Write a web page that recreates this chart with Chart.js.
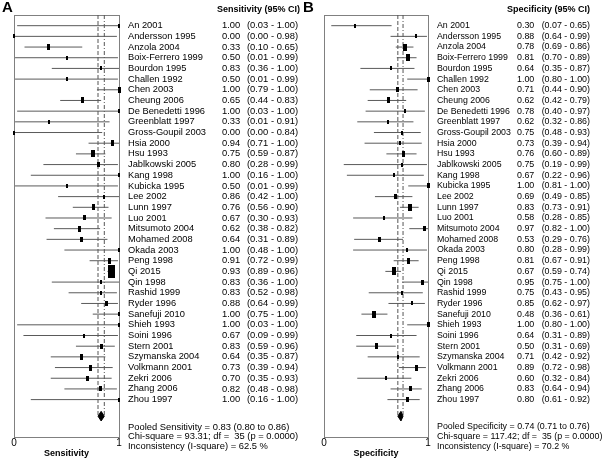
<!DOCTYPE html>
<html>
<head>
<meta charset="utf-8">
<script src="https://cdn.jsdelivr.net/npm/chart.js@4.4.1/dist/chart.umd.min.js"></script>
<style>
  body { margin: 0; background: #fff; }
  #wrap { position: relative; width: 605px; height: 458px; }
  .panel { position: absolute; top: 0; height: 458px; }
  #panelA { left: 0; width: 300px; }
  #panelB { left: 300px; width: 305px; }
</style>
</head>
<body>
<div id="wrap">
  <div class="panel" id="panelA"><canvas id="chartA"></canvas></div>
  <div class="panel" id="panelB"><canvas id="chartB"></canvas></div>
</div>
<script>
const studies = ['An 2001', 'Andersson 1995', 'Anzola 2004', 'Boix-Ferrero 1999', 'Bourdon 1995',
  'Challen 1992', 'Chen 2003', 'Cheung 2006', 'De Benedetti 1996', 'Greenblatt 1997',
  'Gross-Goupil 2003', 'Hsia 2000', 'Hsu 1993', 'Jablkowski 2005', 'Kang 1998', 'Kubicka 1995',
  'Lee 2002', 'Lunn 1997', 'Luo 2001', 'Mitsumoto 2004', 'Mohamed 2008', 'Okada 2003',
  'Peng 1998', 'Qi 2015', 'Qin 1998', 'Rashid 1999', 'Ryder 1996', 'Sanefuji 2010',
  'Shieh 1993', 'Soini 1996', 'Stern 2001', 'Szymanska 2004', 'Volkmann 2001', 'Zekri 2006',
  'Zhang 2006', 'Zhou 1997'];

// Sensitivity (95% CI)
const sensEst = [1.00, 0.00, 0.33, 0.50, 0.83, 0.50, 1.00, 0.65, 1.00, 0.33, 0.00, 0.94, 0.75, 0.80,
  1.00, 0.50, 0.86, 0.76, 0.67, 0.62, 0.64, 1.00, 0.91, 0.93, 0.83, 0.83, 0.88, 1.00, 1.00, 0.67,
  0.83, 0.64, 0.73, 0.70, 0.82, 1.00];
const sensLo = [0.03, 0.00, 0.10, 0.01, 0.36, 0.01, 0.79, 0.44, 0.03, 0.01, 0.00, 0.71, 0.59, 0.28,
  0.16, 0.01, 0.42, 0.56, 0.30, 0.38, 0.31, 0.48, 0.72, 0.89, 0.36, 0.52, 0.64, 0.75, 0.03, 0.09,
  0.59, 0.35, 0.39, 0.35, 0.48, 0.16];
const sensHi = [1.00, 0.98, 0.65, 0.99, 1.00, 0.99, 1.00, 0.83, 1.00, 0.91, 0.84, 1.00, 0.87, 0.99,
  1.00, 0.99, 1.00, 0.90, 0.93, 0.82, 0.89, 1.00, 0.99, 0.96, 1.00, 0.98, 0.99, 1.00, 1.00, 0.99,
  0.96, 0.87, 0.94, 0.93, 0.98, 1.00];
// relative study weight
const sensWeight = [1.0, 0.8, 2.8, 1.2, 1.8, 1.2, 2.8, 2.8, 1.0, 1.8, 1.0, 3.1, 5.0, 2.4, 1.2, 1.2,
  1.8, 3.1, 2.4, 3.1, 2.4, 1.8, 3.1, 15.2, 1.8, 1.8, 2.4, 1.8, 1.2, 1.2, 2.4, 2.8, 2.8, 2.4, 2.4, 1.2];
const sensPooled = [0.83, 0.80, 0.86];
const sensFooter = ['Pooled Sensitivity = 0.83 (0.80 to 0.86)',
  'Chi-square = 93.31; df =  35 (p = 0.0000)',
  'Inconsistency (I-square) = 62.5 %'];

// Specificity (95% CI)
const specEst = [0.30, 0.88, 0.78, 0.81, 0.64, 1.00, 0.71, 0.62, 0.78, 0.62, 0.75, 0.73, 0.76, 0.75,
  0.67, 1.00, 0.69, 0.83, 0.58, 0.97, 0.53, 0.80, 0.81, 0.67, 0.95, 0.75, 0.85, 0.48, 1.00, 0.64,
  0.50, 0.71, 0.89, 0.60, 0.83, 0.80];
const specLo = [0.07, 0.64, 0.69, 0.70, 0.35, 0.80, 0.44, 0.42, 0.40, 0.32, 0.48, 0.39, 0.60, 0.19,
  0.22, 0.81, 0.49, 0.73, 0.28, 0.82, 0.29, 0.28, 0.67, 0.59, 0.75, 0.43, 0.62, 0.36, 0.80, 0.31,
  0.31, 0.42, 0.72, 0.32, 0.64, 0.61];
const specHi = [0.65, 0.99, 0.86, 0.89, 0.87, 1.00, 0.90, 0.79, 0.97, 0.86, 0.93, 0.94, 0.89, 0.99,
  0.96, 1.00, 0.85, 0.91, 0.85, 1.00, 0.76, 0.99, 0.91, 0.74, 1.00, 0.95, 0.97, 0.61, 1.00, 0.89,
  0.69, 0.92, 0.98, 0.84, 0.94, 0.92];
const specWeight = [1.2, 1.8, 5.0, 4.0, 1.8, 2.4, 2.4, 3.1, 1.8, 1.8, 1.8, 1.8, 3.1, 1.2, 1.2, 2.4,
  2.4, 5.0, 1.8, 2.4, 2.4, 1.2, 2.8, 6.0, 2.4, 1.8, 1.8, 4.0, 2.4, 1.8, 2.8, 1.8, 2.8, 1.2, 2.4, 2.4];
const specPooled = [0.74, 0.71, 0.76];
const specFooter = ['Pooled Specificity = 0.74 (0.71 to 0.76)',
  'Chi-square = 117.42; df =  35 (p = 0.0000)',
  'Inconsistency (I-square) = 70.2 %'];

const FONT = '"Liberation Sans", Arial, sans-serif';
const DIAMOND_ROW = 36.55;

// marker = filled rectangle, its area follows the weight
const markerCache = {};
function markerFor(weight) {
    if (markerCache[weight]) return markerCache[weight];
    const h = Math.max(4, Math.round(3.3 * Math.sqrt(weight)));
    const w = Math.max(2, Math.round(h * 0.5));
    const c = document.createElement('canvas');
    c.width = w;
    c.height = h;
    const g = c.getContext('2d');
    g.fillStyle = '#000';
    g.fillRect(0, 0, w, h);
    markerCache[weight] = c;
    return c;
}

const forestText = {
    id: 'forestText',
    beforeDatasetsDraw(chart, args, opts) {
        const { ctx, chartArea } = chart;
        ctx.save();
        ctx.strokeStyle = '#808080';
        ctx.lineWidth = 1;
        ctx.strokeRect(Math.round(chartArea.left) + 0.5, Math.round(chartArea.top) + 0.5,
            Math.round(chartArea.right - chartArea.left), Math.round(chartArea.bottom - chartArea.top));
        ctx.restore();
    },
    afterDraw(chart, args, opts) {
        const { ctx } = chart;
        const y = chart.scales.y;
        ctx.save();
        ctx.fillStyle = '#000';
        ctx.textBaseline = 'middle';
        ctx.textAlign = 'left';

        ctx.font = 'bold 15px ' + FONT;
        ctx.fillText(opts.label, opts.labelX, 8);
        ctx.font = 'bold 9px ' + FONT;
        ctx.fillText(opts.header, opts.headerX, 10);

        studies.forEach((name, i) => {
            const py = y.getPixelForValue(i);
            ctx.textAlign = 'left';
            ctx.font = opts.nameSize + 'px ' + FONT;
            ctx.fillText(name, opts.nameX, py);
            ctx.font = opts.valSize + 'px ' + FONT;
            ctx.fillText(opts.est[i].toFixed(2), opts.valX, py);
            ctx.textAlign = 'right';
            ctx.fillText('(' + opts.lo[i].toFixed(2) + ' - ' + opts.hi[i].toFixed(2) + ')', opts.ciRight, py);
        });
        ctx.textAlign = 'left';
        ctx.font = opts.footSize + 'px ' + FONT;
        opts.footer.forEach((line, k) => {
            ctx.fillText(line, opts.nameX, 427 + k * 9.6);
        });
        ctx.restore();
    }
};

function buildPanel(canvasId, est, lo, hi, weight, pooled, footer, t) {
    const ciSegments = [];
    est.forEach((v, i) => {
        ciSegments.push({ x: lo[i], y: i }, { x: hi[i], y: i }, { x: null, y: null });
    });
    const points = est.map((v, i) => ({ x: v, y: i }));
    const [pEst, pLo, pHi] = pooled;

    return new Chart(document.getElementById(canvasId), {
        type: 'scatter',
        data: {
            datasets: [{
                data: points,
                pointStyle: ctx => markerFor(weight[ctx.dataIndex]),
                pointRadius: 3,
                order: 0,
                clip: false
            }, {
                data: ciSegments,
                showLine: true,
                spanGaps: false,
                borderColor: '#5a5a5a',
                borderWidth: 1,
                pointRadius: 0,
                order: 2,
                clip: false
            }, {
                data: [{ x: pLo, y: -1 }, { x: pLo, y: DIAMOND_ROW }],
                showLine: true,
                borderColor: '#555',
                borderWidth: 1,
                borderDash: [4, 2],
                pointRadius: 0,
                order: 3
            }, {
                data: [{ x: pHi, y: -1 }, { x: pHi, y: DIAMOND_ROW }],
                showLine: true,
                borderColor: '#555',
                borderWidth: 1,
                borderDash: [4, 2, 1, 2],
                pointRadius: 0,
                order: 3
            }, {
                data: [{ x: pLo, y: DIAMOND_ROW }, { x: pEst, y: DIAMOND_ROW - 0.45 },
                    { x: pHi, y: DIAMOND_ROW }, { x: pEst, y: DIAMOND_ROW + 0.45 },
                    { x: pLo, y: DIAMOND_ROW }],
                showLine: true,
                fill: 'shape',
                backgroundColor: '#000',
                borderColor: '#000',
                borderWidth: 1,
                pointRadius: 0,
                order: 1
            }]
        },
        options: {
            responsive: true,
            maintainAspectRatio: false,
            animation: false,
            events: [],
            layout: { padding: { left: t.left, right: t.right, top: 15, bottom: 0 } },
            scales: {
                x: {
                    type: 'linear',
                    min: 0,
                    max: 1,
                    grid: { display: false, drawTicks: false },
                    border: { display: false },
                    ticks: {
                        stepSize: 1,
                        padding: 1,
                        color: '#000',
                        font: { family: FONT, size: 10, lineHeight: 1 },
                        callback: v => (v === 0 || v === 1) ? String(v) : ''
                    },
                    title: {
                        display: true,
                        text: t.axisTitle,
                        color: '#000',
                        padding: 0,
                        font: { family: FONT, size: 9, weight: 'bold', lineHeight: 1 }
                    }
                },
                y: {
                    type: 'linear',
                    min: -1,
                    max: 38.5,
                    reverse: true,
                    display: false
                }
            },
            plugins: {
                legend: { display: false },
                tooltip: { enabled: false },
                forestText: {
                    label: t.label, labelX: t.labelX,
                    header: t.header, headerX: t.headerX,
                    nameX: t.nameX, valX: t.valX, ciRight: t.ciRight,
                    nameSize: t.nameSize, valSize: t.valSize, footSize: t.footSize,
                    est: est, lo: lo, hi: hi, footer: footer
                }
            }
        },
        plugins: [forestText]
    });
}

buildPanel('chartA', sensEst, sensLo, sensHi, sensWeight, sensPooled, sensFooter, {
    left: 14, right: 181, label: 'A', labelX: 2, header: 'Sensitivity (95% CI)', headerX: 217,
    nameX: 128, valX: 222, ciRight: 298, nameSize: 9.3, valSize: 9.4, footSize: 9.4,
    axisTitle: 'Sensitivity'
});
buildPanel('chartB', specEst, specLo, specHi, specWeight, specPooled, specFooter, {
    left: 24, right: 177, label: 'B', labelX: 3, header: 'Specificity (95% CI)', headerX: 207,
    nameX: 137, valX: 217, ciRight: 290, nameSize: 8.8, valSize: 8.9, footSize: 8.9,
    axisTitle: 'Specificity'
});
</script>
</body>
</html>
